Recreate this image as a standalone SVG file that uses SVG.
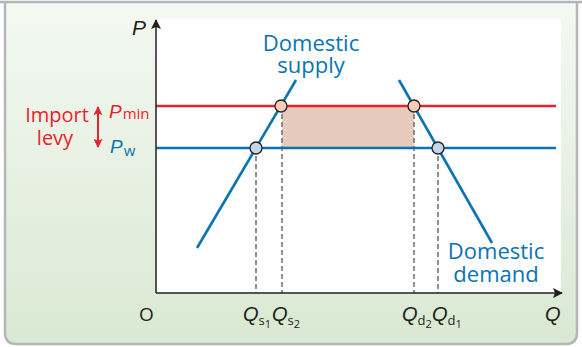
<svg xmlns="http://www.w3.org/2000/svg" width="582" height="347" viewBox="0 0 582 347">
<defs>
<linearGradient id="bg" x1="0" y1="0" x2="0" y2="1">
<stop offset="0" stop-color="#f4f9f2"/>
<stop offset="1" stop-color="#d9e9d3"/>
</linearGradient>
<marker id="axArr" viewBox="0 0 10 10" refX="9" refY="5" markerWidth="10" markerHeight="10" markerUnits="userSpaceOnUse" orient="auto">
<path d="M0,0 L10,5 L0,10 L2,5 Z" fill="#231f20"/>
</marker>
<marker id="redArr" viewBox="0 0 10 10" refX="9" refY="5" markerWidth="9" markerHeight="9" markerUnits="userSpaceOnUse" orient="auto">
<path d="M0,0 L10,5 L0,10 L2,5 Z" fill="#e8232b"/>
</marker>
</defs>
<style>
.sans{font-family:"Open Sans","Liberation Sans",sans-serif;}
.ital{font-family:"Liberation Sans",Arial,sans-serif;font-style:italic;}
.blue{fill:#0a74b3;}
.red{fill:#e8232b;}
.dark{fill:#231f20;}
.dash{stroke:#6d6e71;stroke-width:1.5;stroke-dasharray:5,3;fill:none;}
.curve{stroke:#0a74b3;stroke-width:2.6;fill:none;}
</style>
<path d="M0,2 H582 M5,2 V333 Q5,344 16,344 H566 Q577,344 577,333 V2" fill="url(#bg)" stroke="#b5b6b8" stroke-width="2.5"/>
<rect x="156" y="19" width="405" height="274" fill="#ffffff"/>
<g id="shade"><rect x="282" y="106" width="132" height="42" fill="#e6cabc"/></g>
<g id="connectors">
<line class="dash" x1="256" y1="148" x2="256" y2="293"/>
<line class="dash" x1="282" y1="106" x2="282" y2="293"/>
<line class="dash" x1="414" y1="106" x2="414" y2="293"/>
<line class="dash" x1="438" y1="148" x2="438" y2="293"/>
<line x1="156" y1="106" x2="556" y2="106" stroke="#e8232b" stroke-width="2.6"/>
<line x1="156" y1="148" x2="556" y2="148" stroke="#0a74b3" stroke-width="2.6"/>
<line class="curve" x1="197" y1="248" x2="296" y2="80"/>
<line class="curve" x1="399" y1="80" x2="492" y2="243"/>
<line x1="156" y1="293" x2="156" y2="20" stroke="#231f20" stroke-width="1.5" marker-end="url(#axArr)"/>
<line x1="156" y1="293" x2="562" y2="293" stroke="#231f20" stroke-width="1.5" marker-end="url(#axArr)"/>
<line x1="98" y1="127" x2="98" y2="107" stroke="#e8232b" stroke-width="2" marker-end="url(#redArr)"/>
<line x1="98" y1="127" x2="98" y2="147" stroke="#e8232b" stroke-width="2" marker-end="url(#redArr)"/>
</g>
<g id="points">
<circle cx="281" cy="106" r="6" fill="#f9ccb4" stroke="#231f20" stroke-width="1.3"/>
<circle cx="414" cy="106" r="6" fill="#f9ccb4" stroke="#231f20" stroke-width="1.3"/>
<circle cx="256" cy="148" r="6" fill="#c6d6ea" stroke="#231f20" stroke-width="1.3"/>
<circle cx="438" cy="148" r="6" fill="#c6d6ea" stroke="#231f20" stroke-width="1.3"/>
</g>
<g id="supply-label">
<text class="sans blue" x="311" y="51" font-size="22" text-anchor="middle">Domestic</text>
<text class="sans blue" x="311" y="73" font-size="22" text-anchor="middle">supply</text>
</g>
<g id="demand-label">
<text class="sans blue" x="496" y="259" font-size="22" text-anchor="middle">Domestic</text>
<text class="sans blue" x="496" y="282" font-size="22" text-anchor="middle">demand</text>
</g>
<g id="levy-label">
<text class="sans red" x="57" y="122" font-size="20" text-anchor="middle">Import</text>
<text class="sans red" x="55" y="145" font-size="20" text-anchor="middle">levy</text>
</g>
<g id="price-labels">
<text class="red" x="109" y="118" font-size="19"><tspan class="ital">P</tspan><tspan class="sans" font-size="15" dx="1" dy="1">min</tspan></text>
<text class="blue" x="110" y="153" font-size="19"><tspan class="ital">P</tspan><tspan class="sans" font-size="15" dx="1" dy="3">w</tspan></text>
</g>
<g id="axis-labels">
<text class="ital dark" x="132" y="35" font-size="21">P</text>
<text class="sans dark" x="139" y="321" font-size="19">O</text>
<text class="ital dark" x="545" y="321" font-size="20">Q</text>
<text class="dark" x="243" y="321" font-size="20"><tspan class="ital">Q</tspan><tspan class="sans" font-size="13" dy="4">s</tspan><tspan class="sans" font-size="11" dy="3">1</tspan></text>
<text class="dark" x="272" y="321" font-size="20"><tspan class="ital">Q</tspan><tspan class="sans" font-size="13" dy="4">s</tspan><tspan class="sans" font-size="11" dy="3">2</tspan></text>
<text class="dark" x="402" y="321" font-size="20"><tspan class="ital">Q</tspan><tspan class="sans" font-size="13" dy="4">d</tspan><tspan class="sans" font-size="11" dy="3">2</tspan></text>
<text class="dark" x="432" y="321" font-size="20"><tspan class="ital">Q</tspan><tspan class="sans" font-size="13" dy="4">d</tspan><tspan class="sans" font-size="11" dy="3">1</tspan></text>
</g>
</svg>
